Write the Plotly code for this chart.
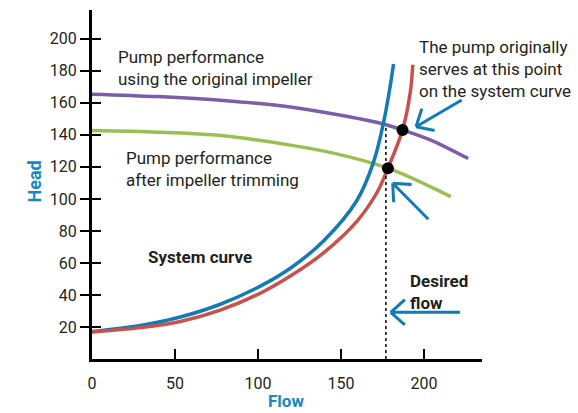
import math
import plotly.graph_objects as go

# ---------------- data ----------------
orig_flow = [0, 39.2, 79.1, 119.5, 173.7, 187.1, 203.8, 226.7]
orig_head = [165.4, 163.9, 161.5, 157.4, 147.3, 143.1, 136.9, 125.2]

trim_flow = [0, 39.2, 79.1, 119.5, 145.5, 178.3, 203.8, 216.2]
trim_head = [142.7, 141.7, 139.4, 133.6, 128.6, 119.2, 107.7, 101.4]

sys_blue_flow = [0, 29.1, 53.2, 77.3, 101.4, 119.5, 139.5, 159.6, 169.6, 175.7, 179.7, 181.7]
sys_blue_head = [17.1, 20.9, 26.2, 34.2, 45.5, 56.7, 73.7, 99.0, 122.8, 147.8, 170.6, 184.2]

sys_red_flow = [0, 29.1, 53.2, 77.3, 101.4, 119.5, 139.5, 159.6, 171.7, 178.3, 187.1, 191.7, 193.3]
sys_red_head = [16.9, 19.6, 23.4, 30.5, 41.1, 51.8, 66.3, 86.0, 104.0, 119.2, 143.1, 166.0, 183.8]

op_flow = [178.3, 187.1]
op_head = [119.2, 143.1]

desired_flow = 177.1
desired_top = 145.6

x_ticks = [0, 50, 100, 150, 200]
y_ticks = [20, 40, 60, 80, 100, 120, 140, 160, 180, 200]

# ---------------- layout geometry ----------------
W, H = 578, 413
ML, MR, MT, MB = 92, 96, 10, 54
XR = [0, 235]
YR = [0, 218]
PW, PH = W - ML - MR, H - MT - MB
sx = PW / (XR[1] - XR[0])
sy = PH / (YR[1] - YR[0])


def px2x(px):
    return XR[0] + (px - ML) / sx


def px2y(py):
    return YR[0] + (H - MB - py) / sy


PURPLE = "#7B5EA5"
GREEN = "#9BBF55"
BLUE = "#137AB5"
RED = "#C9514B"
TXT = "#231F20"
TBLUE = "#1B86C0"
FONT = "Roboto"

fig = go.Figure()
fig.add_trace(go.Scatter(x=orig_flow, y=orig_head, mode="lines",
                         line=dict(color=PURPLE, width=3.5, shape="spline", smoothing=0.9),
                         hoverinfo="skip"))
fig.add_trace(go.Scatter(x=trim_flow, y=trim_head, mode="lines",
                         line=dict(color=GREEN, width=3.5, shape="spline", smoothing=0.9),
                         hoverinfo="skip"))
fig.add_trace(go.Scatter(x=sys_blue_flow, y=sys_blue_head, mode="lines",
                         line=dict(color=BLUE, width=3.5, shape="spline", smoothing=1.0),
                         hoverinfo="skip"))
fig.add_trace(go.Scatter(x=sys_red_flow, y=sys_red_head, mode="lines",
                         line=dict(color=RED, width=3.5, shape="spline", smoothing=1.0),
                         hoverinfo="skip"))
fig.add_trace(go.Scatter(x=[desired_flow, desired_flow], y=[0, desired_top], mode="lines",
                         line=dict(color="black", width=1.5, dash="3px,3px"), hoverinfo="skip"))
fig.add_trace(go.Scatter(x=op_flow, y=op_head, mode="markers",
                         marker=dict(color="black", size=12), hoverinfo="skip"))
# invisible trace on overlay axis (for the crossing ticks)
fig.add_trace(go.Scatter(x=[0], y=[0], yaxis="y2", mode="markers",
                         marker=dict(opacity=0), hoverinfo="skip"))

# ---------------- arrows (open V heads) ----------------
arrows_px = [  # (tail, tip) in pixels
    ((461.7, 100.0), (416.0, 126.7)),
    ((428.3, 219.3), (392.7, 183.3)),
    ((460.0, 312.3), (390.7, 312.3)),
]
shapes = []
for (tx, ty), (hx, hy) in arrows_px:
    ang = math.atan2(ty - hy, tx - hx)
    path = f"M {px2x(tx)},{px2y(ty)} L {px2x(hx)},{px2y(hy)}"
    for d in (-0.73, 0.73):
        ax = hx + 19 * math.cos(ang + d)
        ay = hy + 19 * math.sin(ang + d)
        path += f" M {px2x(ax)},{px2y(ay)} L {px2x(hx)},{px2y(hy)}"
    shapes.append(dict(type="path", path=path, xref="x", yref="y",
                       line=dict(color=BLUE, width=3)))


def note(text, left_px, top_px, bold=False, size=17):
    return dict(text=f"<b>{text}</b>" if bold else text,
                x=px2x(left_px), y=px2y(top_px), xref="x", yref="y",
                xanchor="left", yanchor="top", align="left", showarrow=False,
                font=dict(family=FONT, size=size, color=TXT))


annotations = [
    note("Pump performance<br>using the original impeller", 116, 45),
    note("Pump performance<br>after impeller trimming", 124, 146),
    note("The pump originally<br>serves at this point<br>on the system curve", 417, 35),
    note("System curve", 146, 245, bold=True),
    note("Desired<br>flow", 408, 269, bold=True),
    dict(text="<b>Head</b>", x=33.5, y=H - 182, xref="paper", yref="paper",
         showarrow=False, textangle=-90, xanchor="center", yanchor="middle",
         font=dict(family=FONT, size=18, color=TBLUE)),
    dict(text="<b>Flow</b>", x=286, y=H - 413, xref="paper", yref="paper",
         showarrow=False, xanchor="center", yanchor="bottom",
         font=dict(family=FONT, size=17, color=TBLUE)),
]
# convert pixel-paper annotations to paper fractions
for a in annotations:
    if a.get("xref") == "paper":
        a["x"] = (a["x"] - ML) / PW
        a["y"] = (a["y"] - MB) / PH

fig.update_layout(
    width=W, height=H,
    margin=dict(l=ML, r=MR, t=MT, b=MB, pad=0),
    paper_bgcolor="white", plot_bgcolor="white",
    showlegend=False,
    font=dict(family=FONT, size=16, color=TXT),
    xaxis=dict(range=XR, tickvals=x_ticks, ticks="inside", ticklen=10, tickwidth=1.5,
               tickcolor="black", showline=True, linecolor="black", linewidth=3,
               showgrid=False, zeroline=False, ticklabelstandoff=8,
               tickfont=dict(family=FONT, size=16, color=TXT)),
    yaxis=dict(range=YR, tickvals=y_ticks, ticks="outside", ticklen=9, tickwidth=1.5,
               tickcolor="black", showline=True, linecolor="black", linewidth=3,
               showgrid=False, zeroline=False,
               tickfont=dict(family=FONT, size=16, color=TXT)),
    yaxis2=dict(range=YR, overlaying="y", side="left", tickvals=y_ticks, ticks="inside",
                ticklen=9, tickwidth=1.5, tickcolor="black", showticklabels=False,
                showline=False, showgrid=False, zeroline=False),
    shapes=shapes,
    annotations=annotations,
)

fig.write_html("out.html", config={"displayModeBar": False},
               post_script="document.body.style.margin='0px';document.body.style.overflow='hidden';")
